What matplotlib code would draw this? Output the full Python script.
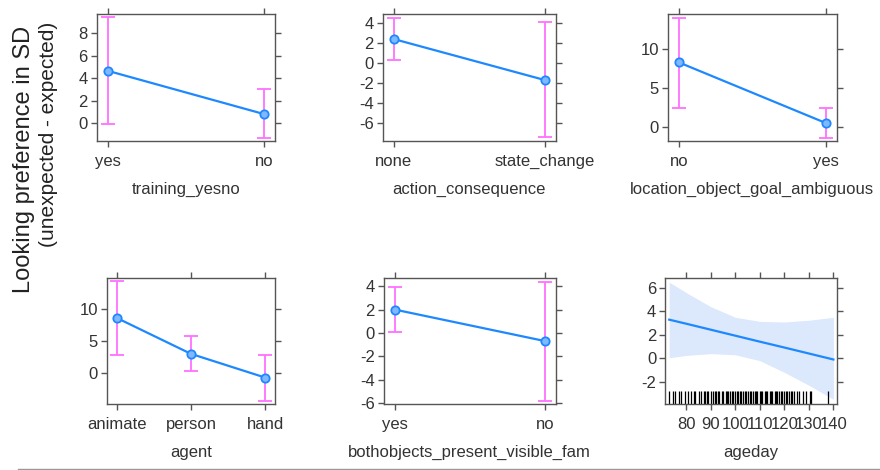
import matplotlib
matplotlib.use("Agg")
import matplotlib.pyplot as plt
from matplotlib.lines import Line2D
import numpy as np

plt.rcParams["font.family"] = ["Liberation Sans", "DejaVu Sans"]
plt.rcParams["axes.unicode_minus"] = False

# ---- data ----
training_levels = ["yes", "no"]
training_fit = [4.65, 0.8]
training_lo = [-0.1, -1.3]
training_hi = [9.4, 3.0]

action_levels = ["none", "state_change"]
action_fit = [2.4, -1.7]
action_lo = [0.3, -7.4]
action_hi = [4.5, 4.1]

location_levels = ["no", "yes"]
location_fit = [8.3, 0.5]
location_lo = [2.5, -1.4]
location_hi = [14.0, 2.5]

agent_levels = ["animate", "person", "hand"]
agent_fit = [8.6, 3.0, -0.7]
agent_lo = [2.8, 0.3, -4.3]
agent_hi = [14.3, 5.8, 2.9]

both_levels = ["yes", "no"]
both_fit = [2.0, -0.7]
both_lo = [0.1, -5.8]
both_hi = [3.9, 4.4]

age_grid = [73, 80, 90, 100, 110, 120, 130, 140]
age_fit = [3.3, 2.95, 2.44, 1.93, 1.42, 0.92, 0.41, -0.1]
age_hi = [6.5, 5.6, 4.4, 3.5, 3.15, 3.1, 3.25, 3.5]
age_lo = [0.05, 0.25, 0.4, 0.3, -0.2, -1.2, -2.3, -3.5]
age_rug = [73, 74.5, 75.5, 77, 78, 79.5, 80.5, 82, 83, 83.5, 85, 86, 87,
           87.5, 88.5, 89, 90, 91, 91.5, 92, 93, 93.5, 94.5, 95, 96, 96.5,
           97, 98, 98.5, 99, 100, 100.5, 101, 102, 102.5, 103, 104, 104.5,
           105, 106, 106.5, 107, 108, 108.5, 109, 110, 110.5, 111, 112,
           112.5, 113, 114, 114.5, 115, 116, 116.5, 117, 118, 118.5, 119,
           120, 120.5, 121, 122, 122.5, 123, 124, 125, 126, 127.5, 129,
           130.5, 131, 138]

# ---- style ----
LINE = "#1e88ff"
ERR = "#ff70ff"
BAND = "#dce8fc"
FRAME = "#555555"
TEXT = "#333333"
FS = 12

fig = plt.figure(figsize=(8.8, 4.7), dpi=100)


def style_axes(ax):
    for s in ax.spines.values():
        s.set_color(FRAME)
        s.set_linewidth(1.0)
    ax.tick_params(axis="both", which="both", direction="out", length=4.5,
                   width=1.0, color=FRAME, labelcolor=TEXT, labelsize=FS,
                   pad=2, top=True, right=True, labeltop=False,
                   labelright=False)
    ax.tick_params(axis="x", pad=5)


def factor_panel(rect, levels, fit, lo, hi, xlabel, ylim, yticks, pad):
    ax = fig.add_axes(rect)
    x = np.arange(len(levels))
    fit = np.asarray(fit)
    yerr = [fit - np.asarray(lo), np.asarray(hi) - fit]
    ax.errorbar(x, fit, yerr=yerr, fmt="none", ecolor=ERR, elinewidth=1.3,
                capsize=5, capthick=1.3, zorder=2)
    ax.plot(x, fit, color=LINE, lw=1.6, zorder=3)
    ax.plot(x, fit, "o", ms=6, mfc="#7fb8ff", mec=LINE, mew=1.3, zorder=4)
    ax.set_xticks(x)
    ax.set_xticklabels(levels)
    ax.set_xlim(-pad, len(levels) - 1 + pad)
    ax.set_yticks(yticks)
    ax.set_ylim(*ylim)
    ax.set_xlabel(xlabel, fontsize=FS, color=TEXT, labelpad=9)
    style_axes(ax)
    return ax


factor_panel([0.110, 0.700, 0.2023, 0.270], training_levels, training_fit,
             training_lo, training_hi, "training_yesno", (-1.6, 9.7),
             [0, 2, 4, 6, 8], 0.07)
factor_panel([0.435, 0.700, 0.1966, 0.270], action_levels, action_fit,
             action_lo, action_hi, "action_consequence", (-7.8, 4.9),
             [-6, -4, -2, 0, 2, 4], 0.073)
factor_panel([0.759, 0.700, 0.192, 0.270], location_levels, location_fit,
             location_lo, location_hi, "location_object_goal_ambiguous",
             (-1.8, 14.5), [0, 5, 10], 0.074)
factor_panel([0.1216, 0.1404, 0.191, 0.268], agent_levels, agent_fit,
             agent_lo, agent_hi, "agent", (-4.8, 14.8), [0, 5, 10], 0.13)
factor_panel([0.436, 0.1404, 0.1955, 0.268], both_levels, both_fit,
             both_lo, both_hi, "bothobjects_present_visible_fam",
             (-6.1, 4.7), [-6, -4, -2, 0, 2, 4], 0.073)

# continuous effect: ageday
ax = fig.add_axes([0.756, 0.1404, 0.1955, 0.268])
ax.fill_between(age_grid, age_lo, age_hi, color=BAND, lw=0, zorder=1)
ax.plot(age_grid, age_fit, color=LINE, lw=1.6, zorder=3)
ax.vlines(age_rug, 0, 0.1, transform=ax.get_xaxis_transform(),
          color="black", lw=0.9, zorder=2)
ax.set_xlim(71.4, 141.6)
ax.set_ylim(-3.9, 6.85)
ax.set_xticks([80, 90, 100, 110, 120, 130, 140])
ax.set_yticks([-2, 0, 2, 4, 6])
ax.set_xlabel("ageday", fontsize=FS, color=TEXT, labelpad=9)
style_axes(ax)

# shared y label: two lines, both aligned to the top
fig.text(0.027, 1 - 26 / 470, "Looking preference in SD", rotation=90,
         ha="center", va="top", fontsize=17, color="#222222")
fig.text(0.055, 1 - 22 / 470, "(unexpected - expected)", rotation=90,
         ha="center", va="top", fontsize=15, color="#222222")

fig.add_artist(Line2D([0.02, 1.0], [0.003, 0.003], color="#999999", lw=1.0))

fig.savefig("out.png", dpi=100)
